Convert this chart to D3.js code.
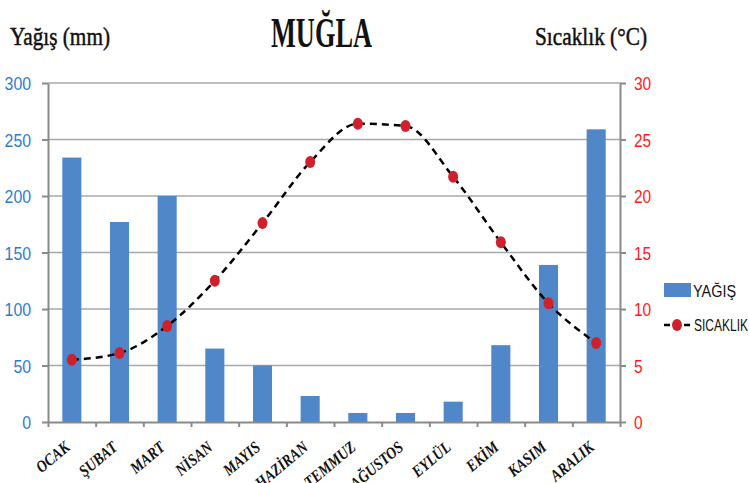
<!DOCTYPE html>
<html>
<head>
<meta charset="utf-8">
<script src="https://cdn.jsdelivr.net/npm/d3@7"></script>
<style>
  body { margin: 0; background: #fff; }
  svg { display: block; }
</style>
</head>
<body>
<div class="chart"></div>
<script>
// data
var months = ["OCAK", "ŞUBAT", "MART", "NİSAN", "MAYIS", "HAZİRAN", "TEMMUZ", "AĞUSTOS", "EYLÜL", "EKİM", "KASIM", "ARALIK"];
var rain = [234, 177, 200, 65, 50, 23, 8, 8, 18, 68, 139, 259];
var temp = [5.5, 6.1, 8.5, 12.5, 17.6, 23.0, 26.4, 26.2, 21.7, 15.9, 10.5, 7.0];
var rainTicks = [0, 50, 100, 150, 200, 250, 300];
var tempTicks = [0, 5, 10, 15, 20, 25, 30];

var width = 749, height = 483;
var plotLeft = 48, plotRight = 620, plotTop = 83, plotBottom = 422;
var sans = "'Liberation Sans', Arial, sans-serif";
var serif = "'Liberation Serif', serif";

var svg = d3.select(".chart").append("svg")
    .attr("width", width)
    .attr("height", height);

// scales
var x = d3.scaleBand().domain(months).range([plotLeft, plotRight]).paddingInner(0.6).paddingOuter(0.3);
var xb = d3.scaleLinear().domain([0, 12]).range([plotLeft, plotRight]);
var yL = d3.scaleLinear().domain([0, 300]).range([plotBottom, plotTop]);
var yR = d3.scaleLinear().domain([0, 30]).range([plotBottom, plotTop]);

// grid lines
svg.append("g").selectAll("line")
    .data(rainTicks.slice(1))
  .enter().append("line")
    .attr("x1", plotLeft).attr("x2", plotRight)
    .attr("y1", function(d) { return yL(d); })
    .attr("y2", function(d) { return yL(d); })
    .attr("stroke", "#a9a9a9")
    .attr("stroke-width", 1.5);

// bars
svg.append("g").selectAll("rect")
    .data(rain)
  .enter().append("rect")
    .attr("x", function(d, i) { return x(months[i]); })
    .attr("y", function(d) { return yL(d); })
    .attr("width", x.bandwidth())
    .attr("height", function(d) { return yL(0) - yL(d); })
    .attr("fill", "#4f87c9");

// axes
var axisColor = "#8a8a8a";
var gl = svg.append("g").attr("transform", "translate(" + plotLeft + ",0)")
    .call(d3.axisLeft(yL).tickValues(rainTicks).tickSize(6).tickSizeOuter(0).tickFormat(""));
var gr = svg.append("g").attr("transform", "translate(" + plotRight + ",0)")
    .call(d3.axisRight(yR).tickValues(tempTicks).tickSize(6).tickSizeOuter(0).tickFormat(""));
var gb = svg.append("g").attr("transform", "translate(0," + plotBottom + ")")
    .call(d3.axisBottom(xb).tickValues(d3.range(0, 13)).tickSize(5).tickSizeOuter(0).tickFormat(""));
[gl, gr, gb].forEach(function(g) {
  g.selectAll("path, line").attr("stroke", axisColor).attr("stroke-width", 2);
});

// tick labels (narrow look via textLength)
svg.append("g").selectAll("text")
    .data(rainTicks)
  .enter().append("text")
    .attr("x", 31)
    .attr("y", function(d) { return yL(d) + 7; })
    .attr("text-anchor", "end")
    .attr("textLength", function(d) { return String(d).length * 8.8; })
    .attr("lengthAdjust", "spacingAndGlyphs")
    .attr("font-family", sans)
    .attr("font-size", 19)
    .attr("fill", "#2e7cd0")
    .text(function(d) { return d; });

svg.append("g").selectAll("text")
    .data(tempTicks)
  .enter().append("text")
    .attr("x", 634)
    .attr("y", function(d) { return yR(d) + 7; })
    .attr("textLength", function(d) { return String(d).length * 8.6; })
    .attr("lengthAdjust", "spacingAndGlyphs")
    .attr("font-family", sans)
    .attr("font-size", 19)
    .attr("fill", "#ff1a1a")
    .text(function(d) { return d; });

// month labels
svg.append("g").selectAll("text")
    .data(months)
  .enter().append("text")
    .attr("transform", function(d) {
      return "translate(" + (x(d) + x.bandwidth() / 2 - 1) + "," + (plotBottom + 27) + ") rotate(-40) scale(0.85,1)";
    })
    .attr("text-anchor", "end")
    .attr("font-family", serif)
    .attr("font-style", "italic")
    .attr("font-weight", "bold")
    .attr("font-size", 16.5)
    .attr("fill", "#111")
    .text(function(d) { return d; });

// temperature line
var line = d3.line()
    .x(function(d, i) { return x(months[i]) + x.bandwidth() / 2; })
    .y(function(d) { return yR(d); })
    .curve(d3.curveMonotoneX);

svg.append("path")
    .datum(temp)
    .attr("d", line)
    .attr("fill", "none")
    .attr("stroke", "#000")
    .attr("stroke-width", 2.5)
    .attr("stroke-dasharray", "7,5");

svg.append("g").selectAll("ellipse")
    .data(temp)
  .enter().append("ellipse")
    .attr("cx", function(d, i) { return x(months[i]) + x.bandwidth() / 2; })
    .attr("cy", function(d) { return yR(d); })
    .attr("rx", 5)
    .attr("ry", 6)
    .attr("fill", "#d0202c");

// titles
svg.append("text")
    .attr("x", 271).attr("y", 47)
    .attr("textLength", 101).attr("lengthAdjust", "spacingAndGlyphs")
    .attr("font-family", serif)
    .attr("font-weight", "bold")
    .attr("font-size", 42)
    .attr("fill", "#111")
    .text("MUĞLA");

svg.append("text")
    .attr("x", 10).attr("y", 45)
    .attr("textLength", 100).attr("lengthAdjust", "spacingAndGlyphs")
    .attr("font-family", serif)
    .attr("font-size", 26)
    .attr("fill", "#111")
    .attr("stroke", "#111").attr("stroke-width", 0.5)
    .text("Yağış (mm)");

svg.append("text")
    .attr("x", 535).attr("y", 45)
    .attr("textLength", 112).attr("lengthAdjust", "spacingAndGlyphs")
    .attr("font-family", serif)
    .attr("font-size", 26)
    .attr("fill", "#111")
    .attr("stroke", "#111").attr("stroke-width", 0.5)
    .text("Sıcaklık (°C)");

// legend
var legend = svg.append("g");
legend.append("rect")
    .attr("x", 664).attr("y", 283)
    .attr("width", 27).attr("height", 14)
    .attr("fill", "#4f87c9");
legend.append("text")
    .attr("x", 693).attr("y", 297)
    .attr("textLength", 43).attr("lengthAdjust", "spacingAndGlyphs")
    .attr("font-family", sans)
    .attr("font-size", 16)
    .attr("fill", "#111")
    .text("YAĞIŞ");
legend.append("line")
    .attr("x1", 664).attr("x2", 691)
    .attr("y1", 325).attr("y2", 325)
    .attr("stroke", "#000").attr("stroke-width", 2.5)
    .attr("stroke-dasharray", "6,4");
legend.append("ellipse")
    .attr("cx", 677).attr("cy", 325)
    .attr("rx", 5).attr("ry", 6)
    .attr("fill", "#d0202c");
legend.append("text")
    .attr("x", 694).attr("y", 331)
    .attr("textLength", 54).attr("lengthAdjust", "spacingAndGlyphs")
    .attr("font-family", sans)
    .attr("font-size", 16)
    .attr("fill", "#111")
    .text("SICAKLIK");
</script>
</body>
</html>
